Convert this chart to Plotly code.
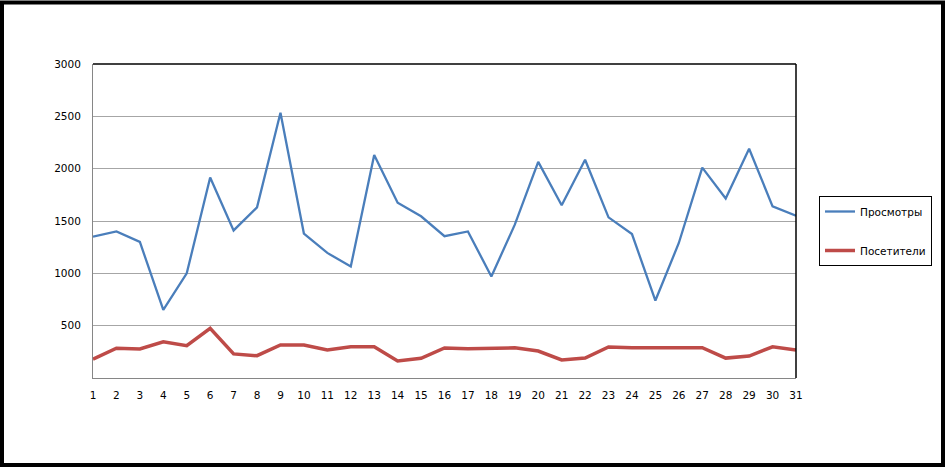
import plotly.graph_objects as go

days = list(range(1, 32))
views = [1350, 1400, 1300, 650, 1000, 1915, 1410, 1630, 2535, 1380,
         1195, 1065, 2130, 1675, 1545, 1355, 1400, 970, 1465, 2065,
         1650, 2085, 1535, 1375, 740, 1290, 2010, 1715, 2190, 1640, 1550]
visitors = [180, 285, 277, 345, 308, 475, 230, 213, 315, 315,
            268, 298, 298, 162, 188, 287, 280, 288, 288, 258,
            172, 190, 297, 290, 290, 290, 290, 190, 210, 298, 268]
series_names = ["Просмотры", "Посетители"]
y_ticks = [500, 1000, 1500, 2000, 2500, 3000]

W, H = 945, 467
L, R, T, B = 93, 149, 64, 89
pw, ph = W - L - R, H - T - B

def px_x(p):
    return (p - L) / pw

def px_y(p):
    return (H - B - p) / ph

fig = go.Figure()
fig.add_trace(go.Scatter(x=days, y=views, mode="lines", name=series_names[0],
                         line=dict(color="#4A7EBB", width=2.3),
                         legendgroup="a"))
fig.add_trace(go.Scatter(x=days, y=visitors, mode="lines", name=series_names[1],
                         line=dict(color="#BE4B48", width=3.5),
                         legendgroup="b"))

font = dict(family="DejaVu Sans", size=10.5, color="black")

fig.update_layout(
    width=W, height=H,
    margin=dict(l=L, r=R, t=T, b=B, autoexpand=False),
    paper_bgcolor="white", plot_bgcolor="white",
    font=font,
    showlegend=True,
    legend=dict(x=px_x(819), y=px_y(196), xanchor="left", yanchor="top",
                bordercolor="black", borderwidth=1, bgcolor="white",
                font=dict(family="DejaVu Sans", size=10.5, color="black"),
                traceorder="grouped", tracegroupgap=20),
    xaxis=dict(range=[1, 31], tickvals=days, ticktext=[str(d) for d in days],
               showgrid=False, zeroline=False, showline=True,
               linecolor="#868686", linewidth=1, ticks="", ticklabelstandoff=7,
               tickfont=font, fixedrange=True),
    yaxis=dict(range=[0, 3000], tickvals=y_ticks, ticktext=[str(v) for v in y_ticks],
               showgrid=True, gridcolor="#A6A6A6", gridwidth=1,
               zeroline=False, showline=True, linecolor="#868686", linewidth=1,
               ticks="", ticklabelstandoff=9, tickfont=font, fixedrange=True),
    shapes=[
        dict(type="line", xref="paper", yref="paper", x0=0, x1=1, y0=1, y1=1,
             line=dict(color="black", width=1.5)),
        dict(type="line", xref="paper", yref="paper", x0=1, x1=1, y0=0, y1=1,
             line=dict(color="black", width=1.5)),
        dict(type="rect", xref="paper", yref="paper",
             x0=px_x(2), x1=px_x(W - 2), y0=px_y(H - 2), y1=px_y(2.5),
             line=dict(color="black", width=4), layer="above"),
    ],
)

fig.write_html("out.html", config={"displayModeBar": False},
               post_script="document.body.style.margin='0';document.body.style.padding='0';")
